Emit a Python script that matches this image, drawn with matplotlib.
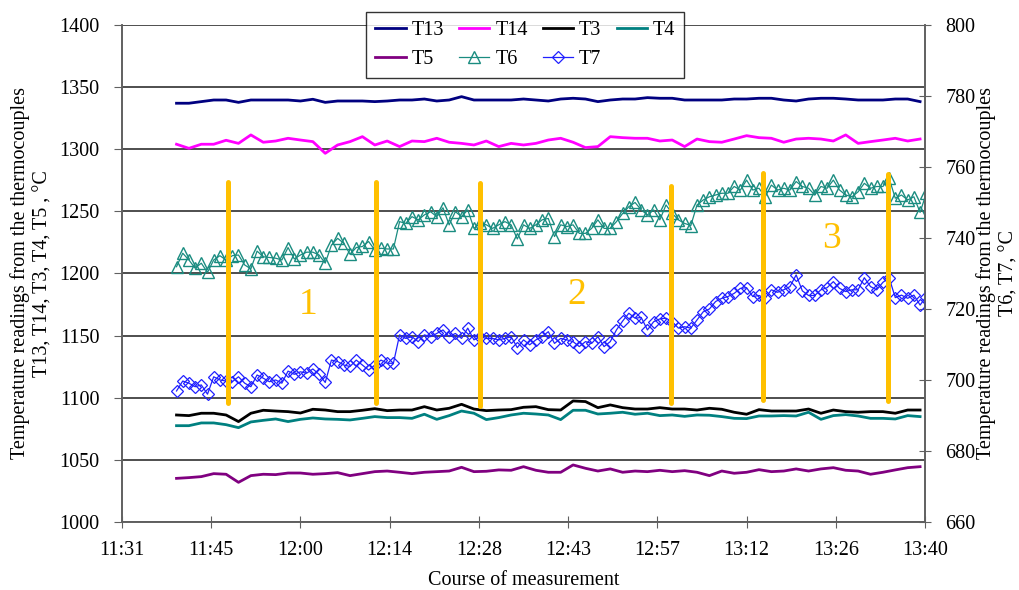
import numpy as np
import matplotlib.pyplot as plt

plt.rcParams['font.family'] = ['Liberation Serif', 'DejaVu Serif']

# x axis in Excel day fractions, ticks every 0.01 day
tick_labels = ["11:31", "11:45", "12:00", "12:14", "12:28", "12:43", "12:57", "13:12", "13:26", "13:40"]

start_time = "11:40"
fast_step = 1   # minutes between T6/T7 readings
slow_step = 2   # minutes between readings of the other thermocouples

# right axis (degC)
t6 = [731.9, 735.7, 733.8, 731.5, 732.9, 730.3, 733.8, 735.0, 733.8, 735.0,
      735.2, 732.4, 731.3, 736.3, 734.7, 734.5, 734.3, 733.8, 737.3, 734.1,
      735.2, 736.0, 736.0, 735.2, 732.9, 738.0, 739.9, 738.5, 735.4, 737.3,
      737.6, 739.0, 736.6, 737.1, 736.9, 736.9, 744.6, 744.1, 746.0, 745.1,
      746.5, 747.4, 746.0, 748.5, 743.7, 747.4, 746.0, 747.9, 742.7, 744.1,
      743.7, 742.7, 743.7, 744.6, 743.7, 739.7, 743.7, 742.7, 743.7, 745.1,
      745.5, 740.4, 743.7, 743.2, 743.7, 741.3, 741.3, 742.7, 745.1, 742.7,
      742.7, 744.6, 746.9, 748.8, 750.0, 747.9, 746.5, 747.9, 745.1, 749.3,
      746.9, 745.1, 744.1, 743.5, 749.3, 750.7, 751.6, 752.1, 752.6, 752.6,
      754.5, 753.5, 756.3, 753.5, 754.0, 751.6, 754.9, 753.5, 754.0, 753.5,
      755.9, 754.5, 754.0, 752.1, 754.5, 754.0, 756.3, 753.5, 752.1, 751.6,
      753.0, 755.4, 754.0, 754.5, 754.5, 756.8, 751.2, 752.1, 750.7, 751.6,
      747.2, 752.6]
t7 = [696.9, 699.7, 699.1, 698.1, 698.6, 696.0, 700.9, 700.0, 699.7, 699.5,
      700.9, 699.1, 698.1, 701.4, 700.5, 699.5, 700.0, 699.1, 702.5, 701.6,
      702.3, 701.9, 703.1, 701.6, 699.3, 705.6, 705.2, 704.2, 703.8, 705.6,
      704.2, 702.8, 704.2, 705.6, 704.7, 704.7, 712.7, 711.7, 712.2, 710.8,
      712.7, 712.2, 713.1, 714.1, 712.2, 713.1, 711.7, 714.6, 711.3, 712.2,
      711.7, 711.7, 711.3, 711.7, 712.2, 709.1, 711.3, 709.9, 711.3, 712.2,
      713.6, 710.3, 711.7, 711.3, 710.8, 709.4, 710.8, 710.3, 712.2, 709.4,
      710.8, 714.1, 716.6, 718.8, 717.4, 717.6, 714.1, 716.4, 717.2, 717.4,
      716.4, 714.6, 715.0, 714.6, 716.9, 719.2, 720.0, 722.1, 723.0, 723.5,
      724.4, 725.8, 726.0, 723.5, 723.8, 723.0, 725.4, 724.7, 725.4, 726.3,
      729.6, 725.1, 723.8, 723.8, 725.4, 726.0, 727.7, 725.8, 724.9, 725.4,
      725.4, 728.8, 726.3, 725.4, 727.5, 728.8, 723.2, 723.9, 723.0, 723.9,
      721.1, 723.5]

# left axis (degC)
t13 = [1337.0, 1337.0, 1338.3, 1339.6, 1339.6, 1337.7, 1339.6, 1339.6, 1339.6, 1339.6,
       1338.8, 1340.2, 1337.7, 1338.8, 1338.8, 1338.8, 1338.3, 1338.8, 1339.6, 1339.6,
       1340.4, 1338.8, 1339.6, 1342.3, 1339.6, 1339.6, 1339.6, 1339.6, 1340.4, 1339.6,
       1338.8, 1340.4, 1341.0, 1340.4, 1338.3, 1339.6, 1340.4, 1340.4, 1341.5, 1341.0,
       1341.0, 1339.6, 1339.6, 1339.6, 1339.6, 1340.4, 1340.4, 1341.0, 1341.0, 1339.6,
       1338.8, 1340.4, 1341.0, 1341.0, 1340.4, 1339.6, 1339.6, 1339.6, 1340.4, 1340.4,
       1338.3]
t14 = [1304.0, 1300.7, 1304.0, 1304.0, 1307.2, 1304.7, 1311.5, 1305.6, 1306.6, 1308.8,
       1307.4, 1306.1, 1296.7, 1303.4, 1306.1, 1310.1, 1303.4, 1306.6, 1302.1, 1306.6,
       1306.1, 1308.8, 1305.6, 1304.7, 1303.4, 1306.6, 1302.1, 1304.7, 1303.4, 1304.7,
       1307.4, 1308.8, 1305.6, 1301.3, 1302.1, 1310.1, 1309.3, 1308.8, 1308.8, 1306.6,
       1307.4, 1302.1, 1308.2, 1306.1, 1305.6, 1308.2, 1310.9, 1309.3, 1308.8, 1305.6,
       1308.2, 1308.8, 1308.2, 1306.6, 1311.5, 1304.7, 1306.1, 1307.4, 1308.8, 1306.6,
       1308.2]
t3 = [1086.1, 1085.6, 1087.5, 1087.5, 1086.1, 1080.8, 1087.5, 1089.9, 1089.3, 1088.8,
      1087.7, 1090.7, 1090.1, 1088.8, 1088.8, 1089.9, 1091.2, 1089.6, 1090.1, 1090.1,
      1092.8, 1090.1, 1091.5, 1094.7, 1090.9, 1089.6, 1090.1, 1090.4, 1092.3, 1092.8,
      1090.4, 1090.1, 1097.4, 1096.9, 1092.0, 1094.2, 1092.0, 1090.9, 1090.9, 1092.0,
      1090.9, 1090.9, 1090.1, 1091.5, 1090.7, 1088.3, 1086.7, 1090.4, 1089.3, 1089.3,
      1089.3, 1090.9, 1087.5, 1090.1, 1088.8, 1088.3, 1088.8, 1088.8, 1087.5, 1090.1,
      1090.1]
t4 = [1077.5, 1077.5, 1079.7, 1079.7, 1078.3, 1075.9, 1080.5, 1081.8, 1082.9, 1080.8,
      1082.6, 1083.7, 1082.9, 1082.6, 1082.1, 1083.4, 1084.8, 1084.0, 1084.0, 1083.4,
      1086.7, 1082.6, 1085.6, 1089.3, 1087.5, 1082.4, 1084.0, 1086.1, 1087.5, 1086.9,
      1086.1, 1082.4, 1089.9, 1089.9, 1086.9, 1087.5, 1088.3, 1086.7, 1087.5, 1085.6,
      1086.1, 1085.0, 1086.1, 1085.9, 1084.8, 1083.4, 1083.2, 1085.3, 1085.3, 1085.6,
      1085.3, 1088.3, 1082.6, 1085.6, 1086.4, 1085.3, 1083.4, 1083.4, 1082.9, 1085.6,
      1084.8]
t5 = [1035.1, 1035.7, 1036.5, 1038.9, 1038.4, 1031.9, 1037.3, 1038.4, 1038.1, 1039.4,
      1039.4, 1038.4, 1038.9, 1039.7, 1037.3, 1038.9, 1040.5, 1041.0, 1040.0, 1038.9,
      1040.0, 1040.5, 1041.0, 1044.0, 1040.5, 1040.8, 1041.9, 1041.6, 1044.5, 1041.6,
      1040.0, 1040.0, 1045.9, 1043.2, 1041.0, 1042.7, 1040.0, 1041.0, 1040.5, 1041.6,
      1040.5, 1041.3, 1040.0, 1037.3, 1041.0, 1039.2, 1040.0, 1042.1, 1040.5, 1041.0,
      1042.7, 1041.0, 1042.7, 1043.7, 1041.6, 1041.0, 1038.4, 1040.0, 1041.9, 1043.7,
      1044.5]

# yellow markers separating the measurement stages (left axis units)
stage_times = ["11:48:20", "12:12:10", "12:29:00", "12:59:45", "13:14:35", "13:34:50"]
stage_top = [1274, 1274, 1273, 1270, 1281, 1280]
stage_bottom = [1096, 1096, 1093, 1096, 1098, 1097]
stage_labels = ["1", "2", "3"]
stage_label_times = ["12:01:10", "12:44:40", "13:25:40"]
stage_label_values = [1175, 1183, 1228]


def day_frac(hms):
    parts = [int(p) for p in hms.split(":")] + [0]
    return (parts[0] * 3600 + parts[1] * 60 + parts[2]) / 86400.0


t0 = day_frac(start_time)
x_fast = t0 + np.arange(len(t6)) * fast_step / 1440.0
x_slow = t0 + np.arange(len(t13)) * slow_step / 1440.0

fs = 14.5

fig = plt.figure(figsize=(10.2, 5.9), dpi=100)
ax = fig.add_axes([0.1196, 0.1153, 0.7873, 0.8424])
ax2 = ax.twinx()

h13, = ax.plot(x_slow, t13, color='#000080', lw=2, label='T13')
h14, = ax.plot(x_slow, t14, color='#FF00FF', lw=2, label='T14')
h3, = ax.plot(x_slow, t3, color='black', lw=2, label='T3')
h4, = ax.plot(x_slow, t4, color='#008080', lw=2, label='T4')
h5, = ax.plot(x_slow, t5, color='#800080', lw=2, label='T5')

h6, = ax2.plot(x_fast, t6, color='#1A8C80', lw=0.9, marker='^', ms=8, mfc='none',
               mew=1.0, label='T6')
h7, = ax2.plot(x_fast, t7, color='#2020FF', lw=0.9, marker='D', ms=6.5, mfc='none',
               mew=0.9, label='T7')

for t, top, bot in zip(stage_times, stage_top, stage_bottom):
    xx = day_frac(t)
    ax2.plot([xx, xx], [bot, top], color='#FFC000', lw=3.6, solid_capstyle='round',
             transform=ax.transData, zorder=5)
for lab, t, v in zip(stage_labels, stage_label_times, stage_label_values):
    ax2.text(day_frac(t), v, lab, transform=ax.transData, color='#FFC000',
             fontsize=27, ha='center', va='center', zorder=6)

ax.set_xlim(0.48, 0.57)
ax.set_ylim(1000, 1400)
ax2.set_ylim(660, 800)
ax.set_xticks(np.arange(0.48, 0.5701, 0.01))
ax.set_xticklabels(tick_labels)
ax.set_yticks(np.arange(1000, 1401, 50))
ax2.set_yticks(np.arange(660, 801, 20))

ax.grid(axis='y', color='#404040', lw=1.3)
ax.set_axisbelow(True)
for a in (ax, ax2):
    for s in a.spines.values():
        s.set_color('#606060')
        s.set_linewidth(1.2)
ax.spines['top'].set_visible(False)
ax2.spines['top'].set_visible(False)

ax.tick_params(axis='y', direction='out', length=6, pad=10, labelsize=fs, color='#606060')
ax.tick_params(axis='x', direction='inout', length=9, labelsize=fs, pad=9, color='#606060')
ax2.tick_params(axis='y', direction='inout', length=9, pad=10, labelsize=fs, color='#606060')

ax.set_ylabel('Temperature readings from the thermocouples\nT13, T14, T3, T4, T5 , °C',
              fontsize=fs, linespacing=1.25)
ax.yaxis.set_label_coords(-0.087, 0.5)
ax2.set_ylabel('Temperature readings from the thermocouples\nT6, T7, °C',
               fontsize=fs, linespacing=1.25)
ax2.yaxis.set_label_coords(1.064, 0.5)
ax.set_xlabel('Course of measurement', fontsize=fs, labelpad=8)

handles = [h13, h5, h14, h6, h3, h7, h4]
leg = fig.legend(handles, [h.get_label() for h in handles], ncol=4, loc='upper center',
                 bbox_to_anchor=(0.515, 0.98), borderaxespad=0, fontsize=fs, frameon=True,
                 fancybox=False, edgecolor='black', handlelength=1.5, handletextpad=0.3,
                 columnspacing=0.75, labelspacing=0.5, borderpad=0.45, numpoints=1)
leg.get_frame().set_linewidth(1.0)
leg.set_zorder(10)

fig.savefig('out.png', dpi=100)
